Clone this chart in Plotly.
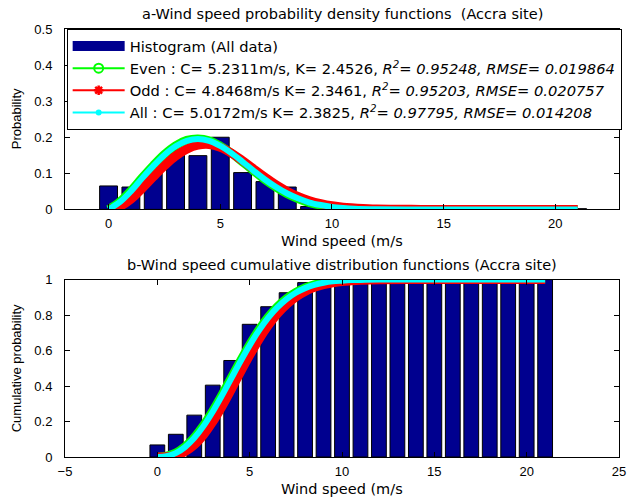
import plotly.graph_objects as go

# ---------------- data ----------------
bin_centers = list(range(0, 22))
pdf_hist = [0.065, 0.062, 0.105, 0.165, 0.149, 0.200, 0.102, 0.077, 0.062, 0.008, 0.003,
            0.001, 0, 0, 0, 0, 0, 0, 0, 0, 0, 0.002]
cdf_hist = [0.068, 0.128, 0.236, 0.405, 0.544, 0.748, 0.847, 0.926, 0.983, 0.991, 0.995,
            0.997, 0.998, 0.998, 0.999, 0.999, 0.999, 0.999, 0.999, 0.999, 0.999, 1.0]

curve_x = [0, 0.5, 1, 1.5, 2, 2.5, 3, 3.5, 4, 4.5, 5, 5.5, 6, 6.5, 7, 7.5, 8, 8.5, 9, 9.5,
           10, 10.5, 11, 12, 14, 16, 18, 21]
pdf_even = [0, 0.021, 0.052, 0.088, 0.122, 0.153, 0.177, 0.192, 0.196, 0.191, 0.176, 0.156,
            0.131, 0.106, 0.082, 0.061, 0.043, 0.029, 0.018, 0.011, 0.0065, 0.0035, 0.0018,
            0.0004, 0, 0, 0, 0]
pdf_odd = [0, 0.008, 0.028, 0.058, 0.090, 0.121, 0.148, 0.167, 0.178, 0.180, 0.172, 0.156,
           0.135, 0.112, 0.089, 0.068, 0.050, 0.035, 0.024, 0.016, 0.010, 0.006, 0.004,
           0.001, 0, 0, 0, 0]
pdf_all = [0, 0.020, 0.050, 0.086, 0.120, 0.151, 0.175, 0.190, 0.195, 0.190, 0.176, 0.156,
           0.132, 0.107, 0.083, 0.062, 0.044, 0.030, 0.019, 0.012, 0.007, 0.004, 0.002,
           0.0005, 0, 0, 0, 0]
cdf_even = [0, 0.006, 0.024, 0.059, 0.111, 0.179, 0.261, 0.352, 0.448, 0.544, 0.635, 0.718,
            0.789, 0.848, 0.894, 0.929, 0.955, 0.972, 0.984, 0.991, 0.995, 0.998, 0.999,
            1.0, 1.0, 1.0, 1.0, 1.0]
cdf_odd = [0, 0.001, 0.008, 0.030, 0.068, 0.125, 0.198, 0.285, 0.380, 0.478, 0.573, 0.662,
           0.740, 0.807, 0.860, 0.902, 0.933, 0.956, 0.972, 0.982, 0.989, 0.993, 0.996,
           0.999, 1.0, 1.0, 1.0, 1.0]
cdf_all = [0, 0.005, 0.022, 0.056, 0.107, 0.174, 0.255, 0.346, 0.442, 0.538, 0.629, 0.712,
           0.784, 0.843, 0.890, 0.926, 0.952, 0.970, 0.982, 0.990, 0.994, 0.997, 0.998,
           1.0, 1.0, 1.0, 1.0, 1.0]

hist_name = "Histogram (All data)"
even_name = "Even : C= 5.2311m/s, K= 2.4526, <i>R<sup>2</sup>= 0.95248, RMSE= 0.019864</i>"
odd_name = "Odd : C= 4.8468m/s K= 2.3461, <i>R<sup>2</sup>= 0.95203, RMSE= 0.020757</i>"
all_name = "All : C= 5.0172m/s K= 2.3825, <i>R<sup>2</sup>= 0.97795, RMSE= 0.014208</i>"

title_a = "a-Wind speed probability density functions  (Accra site)"
title_b = "b-Wind speed cumulative distribution functions (Accra site)"
xlabel = "Wind speed (m/s"
ylabel_a = "Probability"
ylabel_b = "Cumulative probability"

# ---------------- styles ----------------
BAR_COLOR = "#00008F"
GREEN = "#00FF00"
RED = "#FF0000"
CYAN = "#00FFFF"
W_GREEN, W_RED, W_CYAN = 8.5, 9, 6

fig = go.Figure()

for xa, ya, hist in (("x", "y", pdf_hist), ("x2", "y2", cdf_hist)):
    fig.add_trace(go.Bar(x=bin_centers, y=hist, width=0.8, xaxis=xa, yaxis=ya,
                         marker=dict(color=BAR_COLOR, line=dict(color="black", width=1)),
                         showlegend=False, legendgroup="hist", hoverinfo="x+y"))

for xa, ya, curves in (("x", "y", (pdf_even, pdf_odd, pdf_all)),
                       ("x2", "y2", (cdf_even, cdf_odd, cdf_all))):
    for yv, col, w, grp in zip(curves, (GREEN, RED, CYAN), (W_GREEN, W_RED, W_CYAN),
                               ("even", "odd", "all")):
        fig.add_trace(go.Scatter(x=curve_x, y=yv, xaxis=xa, yaxis=ya, mode="lines",
                                 line=dict(color=col, width=w, shape="spline"),
                                 showlegend=False, legendgroup=grp))

# legend entries
fig.add_trace(go.Scatter(x=[None], y=[None], mode="lines", name=hist_name,
                         line=dict(color=BAR_COLOR, width=16), legendgroup="hist"))
fig.add_trace(go.Scatter(x=[None], y=[None], mode="lines+markers", name=even_name,
                         line=dict(color=GREEN, width=2), legendgroup="even",
                         marker=dict(symbol="circle-open", size=9, color=GREEN,
                                     line=dict(width=2, color=GREEN))))
fig.add_trace(go.Scatter(x=[None], y=[None], mode="lines+markers", name=odd_name,
                         line=dict(color=RED, width=2), legendgroup="odd",
                         marker=dict(symbol="asterisk-open", size=8, color=RED,
                                     line=dict(width=2.5, color=RED))))
fig.add_trace(go.Scatter(x=[None], y=[None], mode="lines+markers", name=all_name,
                         line=dict(color=CYAN, width=2), legendgroup="all",
                         marker=dict(symbol="circle", size=6, color=CYAN)))

TICKFONT = dict(family="Liberation Sans, Arial", size=13, color="black")
axis_common = dict(showline=True, linecolor="black", linewidth=1, mirror="ticks",
                   ticks="inside", ticklen=5, tickcolor="black", showgrid=False,
                   zeroline=False, tickfont=TICKFONT)

TOP_DOM = [0.5785, 1.0]
BOT_DOM = [0.0, 0.4145]

fig.update_layout(
    width=627, height=497,
    margin=dict(l=65, r=8, t=29, b=40, autoexpand=False),
    paper_bgcolor="white", plot_bgcolor="white",
    font=dict(family="DejaVu Sans", color="black"),
    barmode="overlay",
    xaxis=dict(axis_common, domain=[0, 1], anchor="y", range=[-1.95, 22.85],
               tickvals=[0, 5, 10, 15, 20], ticklabelstandoff=2),
    yaxis=dict(axis_common, domain=TOP_DOM, anchor="x", range=[0, 0.5],
               tickvals=[0, 0.1, 0.2, 0.3, 0.4, 0.5], ticklabelstandoff=9),
    xaxis2=dict(axis_common, domain=[0, 1], anchor="y2", range=[-5, 25],
                tickvals=[-5, 0, 5, 10, 15, 20, 25], ticklabelstandoff=2),
    yaxis2=dict(axis_common, domain=BOT_DOM, anchor="x2", range=[0, 1],
                tickvals=[0, 0.2, 0.4, 0.6, 0.8, 1], ticklabelstandoff=9),
    legend=dict(x=0.003, y=1.0, xanchor="left", yanchor="top", bgcolor="white",
                bordercolor="black", borderwidth=1, itemwidth=52,
                font=dict(family="DejaVu Sans", size=14.7, color="black"),
                traceorder="grouped", tracegroupgap=0),
    showlegend=True,
)

TITLEFONT = dict(family="DejaVu Sans", size=14.5, color="black")
YFONT = dict(family="Liberation Sans, Arial", size=13, color="black")
annos = [
    dict(text=title_a, x=0.5, y=TOP_DOM[1], yshift=15, font=TITLEFONT),
    dict(text=title_b, x=0.5, y=BOT_DOM[1], yshift=15, font=TITLEFONT),
    dict(text=xlabel, x=0.5, y=TOP_DOM[0], yshift=-32, font=TITLEFONT),
    dict(text=xlabel, x=0.5, y=BOT_DOM[0], yshift=-31.5, font=TITLEFONT),
    dict(text=ylabel_a, x=0, xshift=-49, y=sum(TOP_DOM) / 2, textangle=-90, font=YFONT),
    dict(text=ylabel_b, x=0, xshift=-49, y=sum(BOT_DOM) / 2, textangle=-90, font=YFONT),
]
for a in annos:
    fig.add_annotation(xref="paper", yref="paper", showarrow=False,
                       xanchor="center", yanchor="middle", **a)

# remove the default 8px page margin so the 627x497 chart fills the window exactly
fig.write_html("out.html", config={"displayModeBar": False},
               post_script="document.body.style.margin='0';")
